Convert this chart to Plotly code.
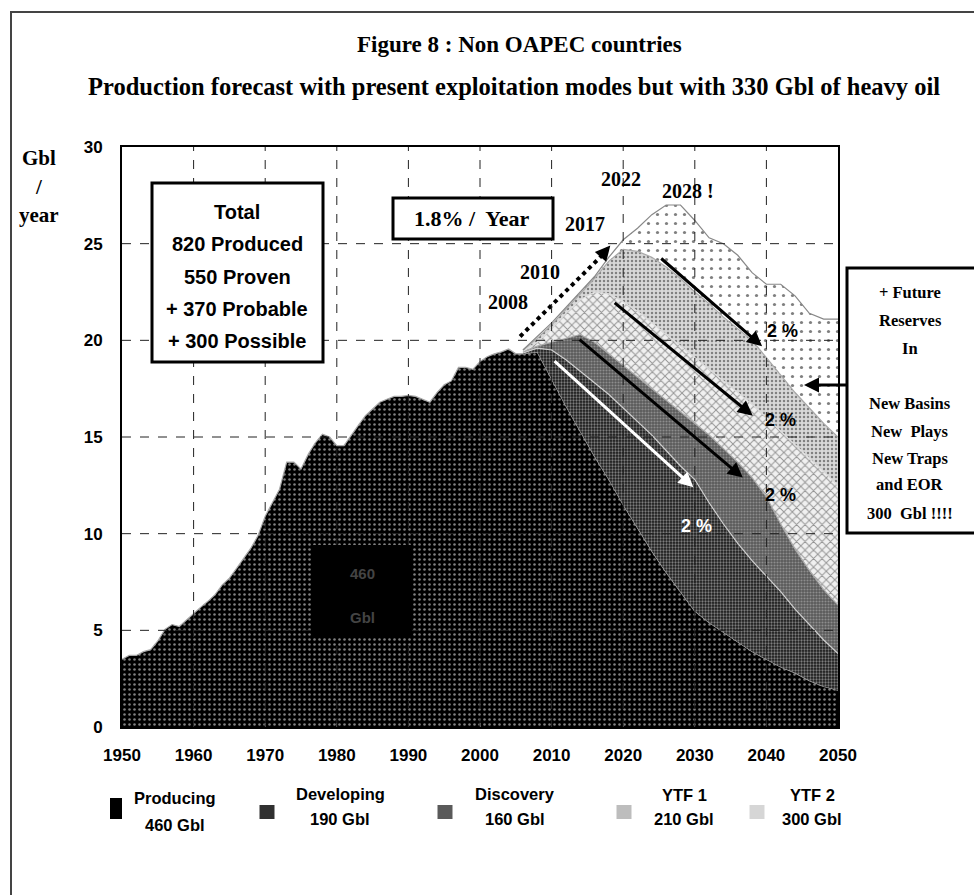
import plotly.graph_objects as go

# ---------------- data ----------------
hist_years = list(range(1950, 2006))
hist_producing = [3.5, 3.7, 3.7, 3.9, 4.0, 4.45, 5.05, 5.3, 5.2, 5.55,
                  5.9, 6.2, 6.5, 6.85, 7.35, 7.7, 8.2, 8.7, 9.25, 9.9,
                  10.9, 11.6, 12.3, 13.7, 13.7, 13.35, 14.1, 14.7, 15.15, 15.0,
                  14.55, 14.55, 15.1, 15.6, 16.1, 16.45, 16.8, 16.95, 17.1, 17.1,
                  17.15, 17.1, 16.95, 16.8, 17.3, 17.7, 17.9, 18.6, 18.6, 18.5,
                  18.9, 19.15, 19.3, 19.4, 19.55, 19.3]

fc_years = [2006, 2008, 2010, 2012, 2014, 2016, 2018, 2020, 2022, 2024, 2026, 2028,
            2030, 2032, 2034, 2036, 2038, 2040, 2042, 2044, 2046, 2048, 2050]
# upper boundary of each stacked layer (Gbl/year)
top_producing = [19.3, 19.4, 18.0, 16.6, 15.3, 14.0, 12.8, 11.5, 10.3, 9.1, 8.0, 7.0,
                 6.0, 5.4, 4.9, 4.4, 3.9, 3.5, 3.1, 2.8, 2.4, 2.1, 1.9]
top_developing = [19.35, 19.6, 19.5, 19.0, 18.4, 17.8, 17.2, 16.5, 15.8, 15.1, 14.3, 13.5,
                  12.8, 11.6, 10.5, 9.5, 8.6, 7.8, 7.0, 6.1, 5.3, 4.5, 3.8]
top_discovery = [19.4, 19.7, 19.9, 20.1, 20.3, 19.9, 19.3, 18.7, 18.1, 17.5, 16.9, 16.3,
                 15.7, 15.1, 14.4, 13.7, 12.9, 11.9, 10.5, 9.2, 8.1, 7.1, 6.3]
top_ytf1 = [19.45, 19.9, 20.6, 21.4, 22.1, 22.5, 22.4, 22.0, 21.5, 20.9, 20.3, 19.7,
            19.1, 18.5, 17.9, 17.3, 16.7, 16.0, 15.3, 14.6, 13.9, 13.2, 12.5]
top_ytf2 = [19.5, 20.1, 20.8, 21.6, 22.4, 23.2, 24.1, 24.7, 24.6, 24.3, 23.8, 23.2,
            22.5, 21.9, 21.2, 20.6, 20.0, 19.1, 18.2, 17.3, 16.5, 15.7, 15.0]
top_heavy_oil = [19.5, 20.2, 20.9, 21.7, 22.5, 23.3, 24.3, 25.2, 25.8, 26.5, 27.0, 27.0,
                 26.2, 25.3, 25.0, 24.4, 23.5, 22.9, 22.9, 22.3, 21.4, 21.1, 21.1]

growth_line_years = [2005.6, 2017.6]
growth_line_values = [20.2, 24.6]

legend_names = ["Producing", "Developing", "Discovery", "YTF 1", "YTF 2"]
legend_volumes = ["460 Gbl", "190 Gbl", "160 Gbl", "210 Gbl", "300 Gbl"]

x_ticks = list(range(1950, 2051, 10))
y_ticks = list(range(0, 31, 5))

# ---------------- geometry helpers (pixel -> paper) ----------------
W, H = 974, 895
L, R, T, B = 122, 838, 147, 727


def px(x):
    return (x - L) / (R - L)


def py(y):
    return (B - y) / (B - T)


fig = go.Figure()

serif = "Liberation Serif"
sans = "Liberation Sans"
edge = "#a8a8a8"

# ---------------- stacked areas ----------------
fig.add_trace(go.Scatter(
    x=hist_years + fc_years, y=hist_producing + top_producing, mode="lines", fill="tozeroy",
    line=dict(color=edge, width=1.2), fillcolor="black",
    fillpattern=dict(shape=".", bgcolor="black", fgcolor="white", size=5, solidity=0.2),
    hoverinfo="skip", showlegend=False))
# base for the forecast layers
fig.add_trace(go.Scatter(x=fc_years, y=top_producing, mode="lines",
                         line=dict(width=0, color="rgba(0,0,0,0)"),
                         hoverinfo="skip", showlegend=False))

layers = [
    (top_developing, dict(shape=".", bgcolor="#1a1a1a", fgcolor="#e0e0e0", size=3, solidity=0.45), "#cccccc"),
    (top_discovery, dict(shape=".", bgcolor="#5a5a5a", fgcolor="#c0c0c0", size=3, solidity=0.4), edge),
    (top_ytf1, dict(shape="x", bgcolor="#f0f0f0", fgcolor="#3a3a3a", size=6, solidity=0.3), "#dddddd"),
    (top_ytf2, dict(shape=".", bgcolor="#d8d8d8", fgcolor="#2a2a2a", size=4, solidity=0.3), edge),
    (top_heavy_oil, dict(shape=".", bgcolor="white", fgcolor="black", size=9, solidity=0.1), "#888888"),
]
for vals, pat, lc in layers:
    fig.add_trace(go.Scatter(
        x=fc_years, y=vals, mode="lines", fill="tonexty",
        line=dict(color=lc, width=1.2),
        fillcolor=pat["bgcolor"], fillpattern=pat,
        hoverinfo="skip", showlegend=False))

# 1.8 % / year dotted growth line
fig.add_trace(go.Scatter(x=growth_line_years, y=growth_line_values, mode="lines",
                         line=dict(color="black", width=4, dash="dot"),
                         hoverinfo="skip", showlegend=False))

# ---------------- axes ----------------
fig.update_xaxes(range=[1950, 2050], tickvals=x_ticks, showgrid=False,
                 showline=True, linecolor="black", linewidth=2, mirror=True,
                 ticks="inside", ticklen=4, tickcolor="#888", ticklabelstandoff=12,
                 tickfont=dict(family=sans, size=17, color="black", weight="bold"),
                 zeroline=False)
fig.update_yaxes(range=[0, 30], tickvals=y_ticks, showgrid=False,
                 showline=True, linecolor="black", linewidth=2, mirror=True,
                 ticks="", ticklabelstandoff=14,
                 tickfont=dict(family=sans, size=17, color="black", weight="bold"),
                 zeroline=False)

shapes = []
for xv in x_ticks[1:-1]:
    shapes.append(dict(type="line", xref="x", yref="paper", x0=xv, x1=xv, y0=0, y1=1,
                       line=dict(color="#222", width=1, dash="dash"), layer="above"))
for yv in y_ticks[1:-1]:
    shapes.append(dict(type="line", xref="paper", yref="y", x0=0, x1=1, y0=yv, y1=yv,
                       line=dict(color="#222", width=1, dash="dash"), layer="above"))

# outer frame
shapes.append(dict(type="rect", xref="paper", yref="paper",
                   x0=px(11), x1=px(990), y0=py(12), y1=py(910),
                   line=dict(color="#444", width=2), fillcolor="rgba(0,0,0,0)", layer="above"))
# Total box
shapes.append(dict(type="rect", xref="paper", yref="paper",
                   x0=px(152), x1=px(323), y0=py(183), y1=py(362),
                   line=dict(color="black", width=3), fillcolor="white", layer="above"))
# 1.8 % box
shapes.append(dict(type="rect", xref="paper", yref="paper",
                   x0=px(393), x1=px(553), y0=py(198), y1=py(239),
                   line=dict(color="black", width=3), fillcolor="white", layer="above"))
# Future reserves box
shapes.append(dict(type="rect", xref="paper", yref="paper",
                   x0=px(847), x1=px(990), y0=py(268), y1=py(533),
                   line=dict(color="black", width=3), fillcolor="white", layer="above"))
# black label box
shapes.append(dict(type="rect", xref="paper", yref="paper",
                   x0=px(312), x1=px(412), y0=py(545), y1=py(638),
                   line=dict(width=0), fillcolor="black", layer="above"))

ann = []


def text(x, y, s, size, family=serif, color="black", xref="paper", yref="paper"):
    ann.append(dict(x=x, y=y, xref=xref, yref=yref, text=s, showarrow=False,
                    font=dict(family=family, size=size, color=color, weight="bold"),
                    align="center", xanchor="center", yanchor="middle"))


text(px(519), py(45), "Figure 8 : Non OAPEC countries", 23)
text(px(514), py(86), "Production forecast with present exploitation modes but with 330 Gbl of heavy oil", 24.5)
text(px(39), py(158), "Gbl", 21)
text(px(39), py(187), "/", 21)
text(px(39), py(215), "year", 21)

for i, line in enumerate(["Total", "820 Produced", "550 Proven", "+ 370 Probable", "+ 300 Possible"]):
    text(px(237), py(212 + 32.3 * i), line, 20, family=sans)

text(px(472), py(218), "1.8% /  Year", 22)
text(px(621), py(179), "2022", 20)
text(px(688), py(191), "2028 !", 20)
text(px(585), py(224), "2017", 20)
text(px(540), py(272), "2010", 20)
text(px(508), py(302), "2008", 20)

for s, yy in [("+ Future", 292), ("Reserves", 320), ("In", 348), ("New Basins", 403),
              ("New  Plays", 431), ("New Traps", 458), ("and EOR", 485), ("300  Gbl !!!!", 513)]:
    text(px(910), py(yy), s, 16.5)

text(px(362), py(573), "460", 15, family=sans, color="#444444")
text(px(362), py(617), "Gbl", 15, family=sans, color="#444444")

# "2 %" decline arrows (start -> end in data units)
arrows = [((2010.2, 19.0), (2029.8, 12.4), "white"),
          ((2013.7, 20.1), (2036.7, 12.9), "black"),
          ((2018.6, 22.0), (2038.1, 16.1), "black"),
          ((2025.1, 24.3), (2039.4, 19.7), "black")]
for (x0, y0), (x1, y1), col in arrows:
    ann.append(dict(x=x1, y=y1, ax=x0, ay=y0, xref="x", yref="y", axref="x", ayref="y",
                    showarrow=True, arrowhead=2, arrowsize=1, arrowwidth=3, arrowcolor=col, text=""))
# head of dotted growth arrow
ann.append(dict(x=2018.2, y=24.9, ax=2016.8, ay=24.3, xref="x", yref="y", axref="x", ayref="y",
                showarrow=True, arrowhead=2, arrowsize=1, arrowwidth=3, arrowcolor="black", text=""))
# arrow from reserves box
ann.append(dict(x=px(804), y=py(385), ax=44, ay=0, xref="paper", yref="paper",
                showarrow=True, arrowhead=2, arrowsize=1,
                arrowwidth=3, arrowcolor="black", text=""))

for (xv, yv, col) in [(2042.3, 20.5, "black"), (2042.0, 15.9, "black"),
                      (2042.0, 12.0, "black"), (2030.3, 10.4, "white")]:
    text(xv, yv, "2 %", 18, family=sans, color=col, xref="x", yref="y")

# ---------------- custom legend ----------------
leg_icon_x = [116, 267, 445, 624, 757]
leg_icon_w = [12, 15, 15, 15, 15]
leg_icon_top = [798, 805, 805, 805, 805]
leg_text_x = [175, 340, 515, 684, 812]
leg_name_y = [798, 794, 794, 795, 795]
leg_vol_y = [825, 819, 819, 819, 819]
leg_fill = ["black", "#303030", "#5a5a5a", "#bdbdbd", "#d6d6d6"]
for i in range(5):
    text(px(leg_text_x[i]), py(leg_name_y[i]), legend_names[i], 16.5, family=sans)
    text(px(leg_text_x[i]), py(leg_vol_y[i]), legend_volumes[i], 16.5, family=sans)
    shapes.append(dict(type="rect", xref="paper", yref="paper",
                       x0=px(leg_icon_x[i] - leg_icon_w[i] / 2), x1=px(leg_icon_x[i] + leg_icon_w[i] / 2),
                       y0=py(819), y1=py(leg_icon_top[i]), line=dict(width=0),
                       fillcolor=leg_fill[i], layer="above"))

fig.update_layout(
    shapes=shapes,
    annotations=ann,
    width=W, height=H,
    margin=dict(l=L, r=W - R, t=T, b=H - B, autoexpand=False),
    paper_bgcolor="white", plot_bgcolor="white",
    showlegend=False,
)

fig.write_html("out.html", post_script="document.body.style.margin='0';",
               config={"displayModeBar": False})
